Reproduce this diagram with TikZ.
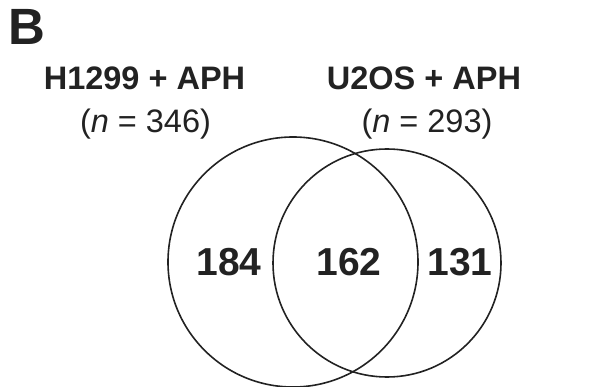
\documentclass[tikz,border=0pt]{standalone}
\usepackage{fontspec}
\setmainfont{Liberation Sans}
\definecolor{ink}{HTML}{222222}
\begin{document}
\begin{tikzpicture}[x=1pt,y=-1pt,
  setcircle/.style={circle,draw=ink,line width=1.6pt,inner sep=0pt},
  heading/.style={anchor=base,inner sep=0pt,text=ink,font=\fontsize{32.5}{32.5}\selectfont\bfseries},
  countlabel/.style={anchor=base,inner sep=0pt,text=ink,font=\fontsize{32.5}{32.5}\selectfont},
  overlap/.style={anchor=base,inner sep=0pt,text=ink,font=\fontsize{39}{39}\selectfont\bfseries}]
\useasboundingbox (0,0) rectangle (596,387);
% panel letter
\node[anchor=base west,inner sep=0pt,text=ink,font=\fontsize{51}{51}\selectfont\bfseries] (panel) at (8,45) {B};
% set titles and sizes
\node[heading] (titleA) at (144.5,90) {H1299 + APH};
\node[heading] (titleB) at (424,90) {U2OS + APH};
\node[countlabel] (sizeA) at (145.5,133) {(\textit{n} = 346)};
\node[countlabel] (sizeB) at (427,133) {(\textit{n} = 293)};
% the two sets
\node[setcircle,minimum size=250pt] (setA) at (293,262) {};
\node[setcircle,minimum size=228pt] (setB) at (387,263) {};
% region counts
\node[overlap] (onlyA) at (229,275) {184};
\node[overlap] (both) at (349,275) {162};
\node[overlap] (onlyB) at (460,275) {131};
\end{tikzpicture}
\end{document}
